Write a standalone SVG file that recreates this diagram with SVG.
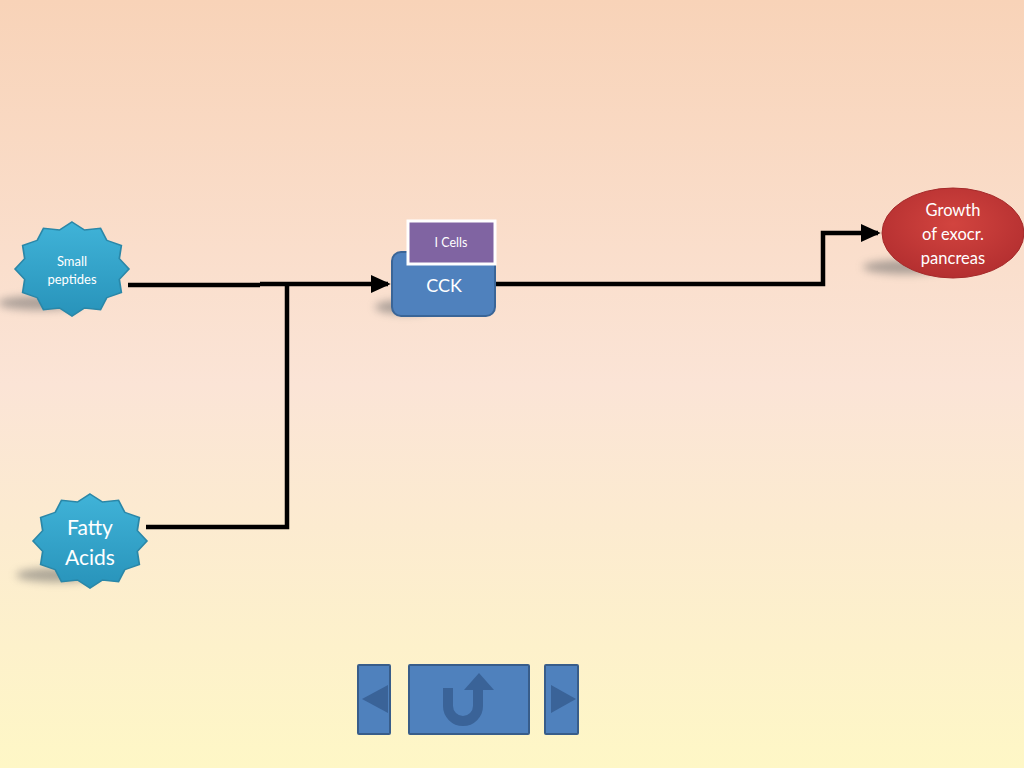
<svg xmlns="http://www.w3.org/2000/svg" width="1024" height="768" viewBox="0 0 1024 768">
<defs>
<linearGradient id="bg" x1="0" y1="0" x2="0" y2="1">
<stop offset="0" stop-color="#F8D3B8"/>
<stop offset="0.5" stop-color="#FBE4D6"/>
<stop offset="1" stop-color="#FEF7C6"/>
</linearGradient>
<linearGradient id="starg" x1="0" y1="0" x2="0" y2="1">
<stop offset="0" stop-color="#40B3D8"/>
<stop offset="1" stop-color="#2893BA"/>
</linearGradient>
<radialGradient id="redg" cx="0.5" cy="0.4" r="0.6">
<stop offset="0" stop-color="#D2443F"/>
<stop offset="1" stop-color="#B42F30"/>
</radialGradient>
<filter id="blur" x="-50%" y="-200%" width="200%" height="500%">
<feGaussianBlur stdDeviation="4"/>
</filter>
<marker id="arr" markerWidth="4.4" markerHeight="4" refX="3.8" refY="2" orient="auto" markerUnits="strokeWidth">
<path d="M0,0 L4.4,2 L0,4 z" fill="#000"/>
</marker>
<polygon id="star" points="0,-1 0.22,-0.83 0.5,-0.866 0.61,-0.61 0.866,-0.5 0.83,-0.22 1,0 0.83,0.22 0.866,0.5 0.61,0.61 0.5,0.866 0.22,0.83 0,1 -0.22,0.83 -0.5,0.866 -0.61,0.61 -0.866,0.5 -0.83,0.22 -1,0 -0.83,-0.22 -0.866,-0.5 -0.61,-0.61 -0.5,-0.866 -0.22,-0.83"/>
</defs>
<style>
.shadow{fill:#6b6b6b;opacity:0.55;filter:url(#blur)}
.starshape{fill:url(#starg);stroke:#2A87A8;stroke-width:0.03}
.t{font-family:Lato,"Open Sans","Liberation Sans",sans-serif;fill:#fff;text-anchor:middle}
.conn{fill:none;stroke:#000;stroke-width:4.5}
.btn{fill:#4F81BD;stroke:#385D8A;stroke-width:2}
.icon{fill:#3A6398}
</style>
<rect width="1024" height="768" fill="url(#bg)"/>

<g id="connectors">
<polyline class="conn" points="128,285 260,285"/>
<polyline class="conn" points="146,527 287,527 287,284"/>
<polyline class="conn" points="260,284 388,284" marker-end="url(#arr)"/>
<polyline class="conn" points="495,284 823,284 823,233 878,233" marker-end="url(#arr)"/>
</g>

<g id="small-peptides">
<ellipse class="shadow" cx="40" cy="303" rx="42" ry="7"/>
<use href="#star" class="starshape" transform="translate(72,269) scale(57,47)"/>
<text class="t" x="72" y="266" font-size="13">Small</text>
<text class="t" x="72" y="284" font-size="13">peptides</text>
</g>

<g id="fatty-acids">
<ellipse class="shadow" cx="58" cy="575" rx="42" ry="7"/>
<use href="#star" class="starshape" transform="translate(90,541) scale(57,47)"/>
<text class="t" x="90" y="535" font-size="21">Fatty</text>
<text class="t" x="90" y="565" font-size="21">Acids</text>
</g>

<g id="cck">
<ellipse class="shadow" cx="405" cy="307" rx="30" ry="7"/>
<rect x="392" y="252" width="103" height="64" rx="9" fill="#4F81BD" stroke="#3A6597" stroke-width="2"/>
<text class="t" x="444" y="292" font-size="18">CCK</text>
</g>

<g id="i-cells">
<rect x="408" y="221" width="87" height="43" fill="#8064A2" stroke="#fff" stroke-width="3"/>
<text class="t" x="451" y="247" font-size="12.5">I Cells</text>
</g>

<g id="growth">
<ellipse class="shadow" cx="905" cy="267" rx="42" ry="7"/>
<ellipse cx="953" cy="233" rx="71" ry="45" fill="url(#redg)" stroke="#A52A2A" stroke-width="1"/>
<text class="t" x="953" y="216" font-size="16.5">Growth</text>
<text class="t" x="953" y="240" font-size="16.5">of exocr.</text>
<text class="t" x="953" y="264" font-size="16.5">pancreas</text>
</g>

<g id="nav-prev">
<rect class="btn" x="358" y="665" width="32" height="69" rx="1"/>
<polygon class="icon" points="362,699 388,685 388,713"/>
</g>
<g id="nav-home">
<rect class="btn" x="409" y="665" width="120" height="69" rx="1"/>
<path d="M448,688 V706 A15,15 0 0 0 478,706 V688" fill="none" stroke="#3A6398" stroke-width="10"/>
<polygon class="icon" points="464,690 479,673 494,690"/>
</g>
<g id="nav-next">
<rect class="btn" x="545" y="665" width="33" height="69" rx="1"/>
<polygon class="icon" points="551,685 576,699 551,713"/>
</g>
</svg>
